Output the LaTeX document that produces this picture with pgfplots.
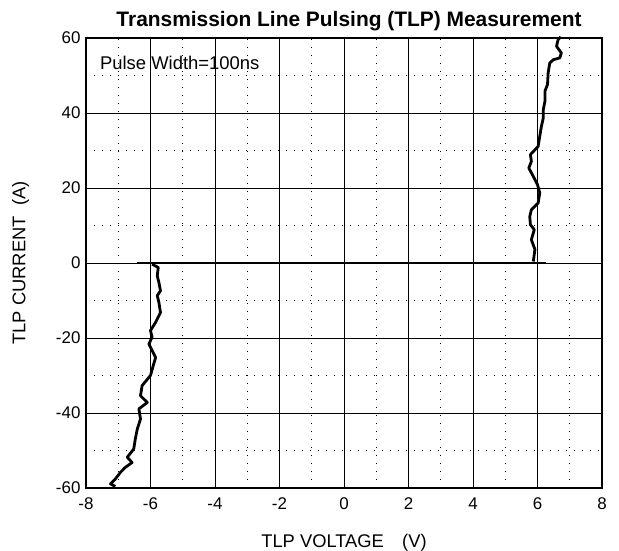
\documentclass[border=0pt]{standalone}
\usepackage{pgfplots}
\pgfplotsset{compat=1.18}
\usepackage{fontspec}
\setmainfont{Liberation Sans}
\begin{document}
\begin{tikzpicture}[x=1bp,y=1bp]
\begin{axis}[
  scale only axis,
  width=516bp, height=450bp,
  xmin=-8, xmax=8, ymin=-60, ymax=60,
  xtick={-8,-6,...,8}, ytick={-60,-40,...,60},
  minor xtick={-7,-5,...,7}, minor ytick={-50,-30,...,50},
  grid=both,
  major grid style={black, line width=0.9bp},
  minor grid style={black, line width=1bp, dash pattern=on 1bp off 7bp},
  major tick length=0pt, minor tick length=0pt,
  axis line style={black, line width=1.3bp},
  /pgf/number format/assume math mode=true,
  ticklabel style={font=\fontsize{17}{20}\selectfont},
  xticklabel style={yshift=-6bp},
  yticklabel style={xshift=-2bp},
  title={Transmission Line Pulsing (TLP) Measurement},
  title style={font=\fontsize{21}{25}\selectfont\bfseries, yshift=-2bp, xshift=5bp},
  xlabel={TLP VOLTAGE\quad(V)},
  ylabel={TLP CURRENT\ \ (A)},
  label style={font=\fontsize{18.4}{22}\selectfont},
  xlabel style={yshift=-18bp},
  ylabel style={yshift=20bp},
  clip=false,
]
\addplot[black, line width=2.8bp, line join=round] coordinates {
(-7.09,-59.6) (-7.24,-58.9) (-7.09,-57.6) (-6.93,-55.8) (-6.78,-54.5)
(-6.57,-53.2) (-6.72,-51.8) (-6.52,-49.6) (-6.47,-46.9) (-6.41,-44.3)
(-6.31,-41.6) (-6.36,-38.9) (-6.10,-37.2) (-6.31,-35.4) (-6.26,-32.7)
(-6.00,-30.0) (-5.90,-26.9) (-5.84,-25.2) (-6.05,-21.6) (-5.95,-19.8)
(-6.00,-18.0) (-5.84,-15.8) (-5.69,-13.2) (-5.74,-10.5) (-5.79,-8.7)
(-5.69,-7.4) (-5.74,-5.2) (-5.79,-3.4) (-5.76,-1.2) (-5.95,-0.3)
};
\addplot[black, line width=2.6bp] coordinates {(-6.41,0) (6.25,0)};
\addplot[black, line width=2.8bp, line join=round] coordinates {
(5.87,0.4) (5.92,3.6) (5.81,6.2) (5.90,8.9) (5.78,10.2) (5.76,12.4)
(5.81,14.2) (6.02,16.0) (6.07,18.7) (6.00,20.9) (5.87,23.1) (5.73,25.3)
(5.81,27.1) (5.78,28.9) (6.02,31.1) (6.07,33.8) (6.12,36.4) (6.18,38.7)
(6.18,40.9) (6.23,43.1) (6.23,45.8) (6.31,47.6) (6.33,50.7) (6.38,53.3)
(6.49,54.2) (6.69,54.7) (6.74,56.0) (6.59,57.8) (6.64,59.6) (6.72,60.3)
};
\node[anchor=west, font=\fontsize{18.5}{22}\selectfont, inner sep=0pt] at (axis cs:-7.57,53.4) {Pulse Width=100ns};
\coordinate (ll) at (rel axis cs:0,0);
\coordinate (ur) at (rel axis cs:1,1);
\end{axis}
\pgfresetboundingbox
\path[use as bounding box] ([shift={(-86bp,-63bp)}]ll) rectangle ([shift={(17bp,38bp)}]ur);
\end{tikzpicture}
\end{document}
